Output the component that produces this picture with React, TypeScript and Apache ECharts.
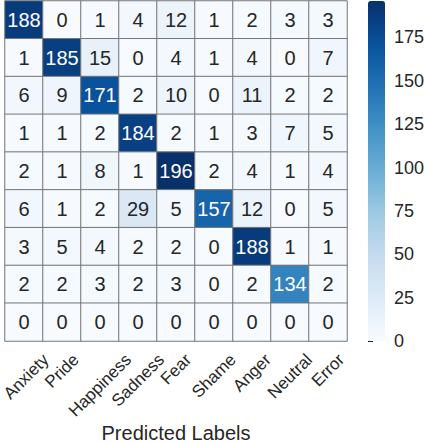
import React, { useEffect, useRef } from "react";
import * as echarts from "echarts";

const categories = ["Anxiety", "Pride", "Happiness", "Sadness", "Fear", "Shame", "Anger", "Neutral", "Error"];
const row0 = [188, 0, 1, 4, 12, 1, 2, 3, 3];
const row1 = [1, 185, 15, 0, 4, 1, 4, 0, 7];
const row2 = [6, 9, 171, 2, 10, 0, 11, 2, 2];
const row3 = [1, 1, 2, 184, 2, 1, 3, 7, 5];
const row4 = [2, 1, 8, 1, 196, 2, 4, 1, 4];
const row5 = [6, 1, 2, 29, 5, 157, 12, 0, 5];
const row6 = [3, 5, 4, 2, 2, 0, 188, 1, 1];
const row7 = [2, 2, 3, 2, 3, 0, 2, 134, 2];
const row8 = [0, 0, 0, 0, 0, 0, 0, 0, 0];
const rows = [row0, row1, row2, row3, row4, row5, row6, row7, row8];
const colorTicks = [0, 25, 50, 75, 100, 125, 150, 175];
const vMin = 0;
const vMax = 196;
const blues = ["#f7fbff", "#deebf7", "#c6dbef", "#9ecae1", "#6baed6", "#4292c6", "#2171b5", "#08519c", "#08306b"];

const FONT = '"Liberation Sans", Arial, Helvetica, sans-serif';

export default function App() {
  const ref = useRef<HTMLDivElement>(null);
  useEffect(() => {
    if (!ref.current) return;
    const chart = echarts.init(ref.current, undefined, { renderer: "svg" });

    const gridTop = 1;
    const gridHeight = 340;

    const data: any[] = [];
    rows.forEach((r, ri) => {
      r.forEach((v, ci) => {
        data.push({
          value: [ci, ri, v],
          label: { color: v > 95 ? "#ffffff" : "#262626" },
        });
      });
    });

    chart.setOption({
      animation: false,
      textStyle: { fontFamily: FONT },
      grid: [
        { left: 5, top: gridTop, width: 342, height: gridHeight, outerBoundsMode: "none", containLabel: false },
        { left: 368, top: gridTop, width: 17, height: gridHeight, outerBoundsMode: "none", containLabel: false },
      ],
      xAxis: [
        {
          type: "category",
          gridIndex: 0,
          data: categories,
          splitArea: { show: false },
          axisLine: { show: false },
          axisTick: { show: false },
          axisLabel: { show: false },
          name: "Predicted Labels",
          nameLocation: "middle",
          nameGap: 82,
          nameMoveOverlap: false,
          nameTextStyle: { fontSize: 20, color: "#262626", fontFamily: FONT, verticalAlign: "top" },
        },
        { type: "value", gridIndex: 1, show: false, min: 0, max: 1 },
      ],
      yAxis: [
        {
          type: "category",
          gridIndex: 0,
          inverse: true,
          data: categories.map((_, i) => String(i)),
          axisLine: { show: false },
          axisTick: { show: false },
          axisLabel: { show: false },
        },
        {
          type: "value",
          gridIndex: 1,
          position: "right",
          min: vMin,
          max: vMax,
          axisLine: { show: false },
          splitLine: { show: false },
          axisTick: { show: true, length: 5, customValues: colorTicks, lineStyle: { color: "#262626", width: 1 } },
          axisLabel: { customValues: colorTicks, margin: 9, fontSize: 18, color: "#262626", fontFamily: FONT },
        },
      ],
      visualMap: {
        type: "continuous",
        min: vMin,
        max: vMax,
        dimension: 2,
        seriesIndex: 0,
        calculable: false,
        orient: "vertical",
        left: 368,
        top: gridTop,
        padding: 0,
        itemWidth: 17,
        itemHeight: gridHeight,
        showLabel: false,
        text: null,
        inRange: { color: blues },
      },
      series: [
        {
          type: "heatmap",
          xAxisIndex: 0,
          yAxisIndex: 0,
          data,
          itemStyle: { borderColor: "#757575", borderWidth: 1 },
          label: { show: true, fontSize: 20, fontFamily: FONT, formatter: (p: any) => String(p.value[2]) },
          emphasis: { disabled: true },
        },
      ],
    });

    // rotated x tick labels, centred on each category like matplotlib's ha="center"
    const fs = 17;
    const canvas = document.createElement("canvas");
    const ctx = canvas.getContext("2d")!;
    ctx.font = `${fs}px "Liberation Sans"`;
    const axisBottom = gridTop + gridHeight;
    const labelTop = axisBottom + 9;
    const textH = fs * 1.15;
    const k = Math.SQRT1_2 / 2;
    const graphics = categories.map((c, i) => {
      const w = ctx.measureText(c).width;
      const px = chart.convertToPixel({ xAxisIndex: 0 }, i) as number;
      const halfW = (w + fs) * k;
      const x = Math.max(px, halfW + 0.5);
      return {
        type: "text",
        x,
        y: labelTop + (w + textH) * k,
        rotation: Math.PI / 4,
        silent: true,
        style: {
          text: c,
          fontSize: fs,
          fontFamily: FONT,
          fill: "#262626",
          align: "center",
          verticalAlign: "middle",
        },
      };
    });
    chart.setOption({ graphic: graphics });

    return () => chart.dispose();
  }, []);
  return (
    <div
      ref={ref}
      style={{ position: "absolute", left: 0, top: 0, width: 425, height: 443 }}
    />
  );
}
